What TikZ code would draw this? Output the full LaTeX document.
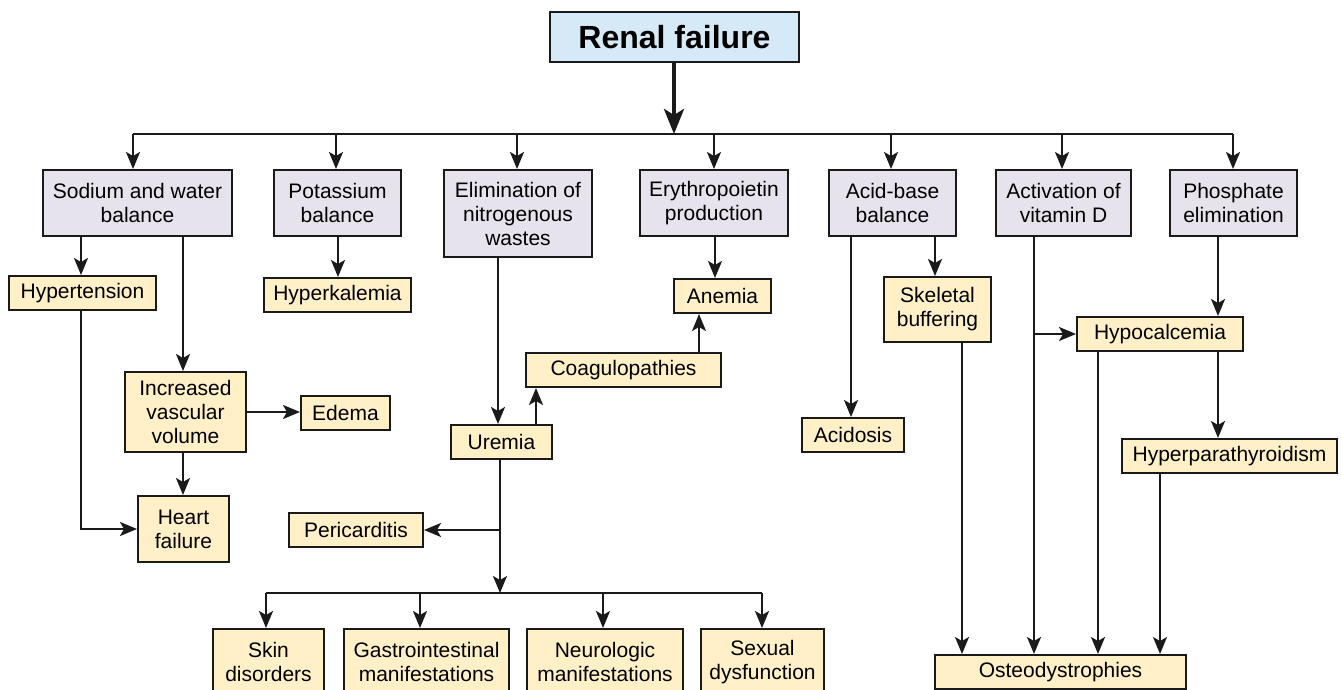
\documentclass[tikz,border=0pt]{standalone}
\usepackage{fontspec}
\setmainfont{Liberation Sans}
\usetikzlibrary{arrows.meta}
\definecolor{lavfill}{HTML}{E7E3EC}
\definecolor{yelfill}{HTML}{FFF0C8}
\definecolor{bluefill}{HTML}{D5E9F7}
\definecolor{ink}{HTML}{1A1A1A}
\tikzset{
  box/.style={draw=ink, line width=2pt, inner sep=0pt, align=center, font=\fontsize{21}{24}\selectfont},
  lvl/.style={box, fill=lavfill},
  res/.style={box, fill=yelfill},
  top/.style={box, fill=bluefill, font=\bfseries\fontsize{32}{36}\selectfont},
  con/.style={line width=2pt, draw=ink},
  arr/.style={con, -{Stealth[length=17pt,width=14pt,inset=4pt]}},
  bigarr/.style={draw=ink, line width=4pt, -{Stealth[length=25pt,width=20pt,inset=6pt]}},
}
\newcommand\bnode[7]{\node[#6, minimum width={#3pt-#2pt}, minimum height={#5pt-#4pt}] (#1) at ({(#2+#3)/2},{(#4+#5)/2}) {#7};}
\begin{document}
\begin{tikzpicture}[x=1pt,y=-1pt]
\clip (0,0) rectangle (1341,690);
% top
\bnode{rf}{550}{799}{12}{62}{top}{Renal failure}
% level 1
\bnode{sod}{43}{232}{170}{236}{lvl}{Sodium and water\\balance}
\bnode{pot}{274}{401}{170}{236}{lvl}{Potassium\\balance}
\bnode{eli}{444}{592}{170}{257}{lvl}{Elimination of\\nitrogenous\\wastes}
\bnode{ery}{640}{788}{170}{236}{lvl}{Erythropoietin\\production}
\bnode{acb}{829}{956}{170}{236}{lvl}{Acid-base\\balance}
\bnode{vit}{996}{1131}{170}{236}{lvl}{Activation of\\vitamin D}
\bnode{pho}{1170}{1297}{170}{236}{lvl}{Phosphate\\elimination}
% level 2
\bnode{hyp}{9}{156}{276}{310}{res}{Hypertension}
\bnode{hyk}{264}{411}{278}{312}{res}{Hyperkalemia}
\bnode{inc}{125}{246}{372}{452}{res}{Increased\\vascular\\volume}
\bnode{ede}{301}{390}{396}{430}{res}{Edema}
\bnode{hf}{138}{229}{496}{562}{res}{Heart\\failure}
\bnode{ure}{451}{552}{425}{459}{res}{Uremia}
\bnode{coa}{526}{721}{353}{387}{res}{Coagulopathies}
\bnode{ane}{674}{771}{279}{313}{res}{Anemia}
\bnode{per}{289}{423}{513}{547}{res}{Pericarditis}
\bnode{ski}{213}{324}{629}{695}{res}{Skin\\disorders}
\bnode{gas}{344}{509}{629}{695}{res}{Gastrointestinal\\manifestations}
\bnode{neu}{527}{683}{629}{695}{res}{Neurologic\\manifestations}
\bnode{sex}{701}{824}{629}{695}{res}{Sexual\\dysfunction}
\bnode{aci}{802}{904}{418}{452}{res}{Acidosis}
\bnode{ske}{884}{991}{277}{342}{res}{Skeletal\\buffering}
\bnode{hca}{1077}{1243}{317}{351}{res}{Hypocalcemia}
\bnode{hpt}{1122}{1337}{439}{473}{res}{Hyperparathyroidism}
\bnode{ost}{935}{1186}{655}{689}{res}{Osteodystrophies}
% main bus
\coordinate (bm) at (674,134);
\coordinate (b1) at (133,134);
\coordinate (b2) at (336,134);
\coordinate (b3) at (517,134);
\coordinate (b4) at (714,134);
\coordinate (b5) at (891,134);
\coordinate (b6) at (1062,134);
\coordinate (b7) at (1233,134);
\draw[con] (b1) -- (b7);
\draw[bigarr] (rf.south -| bm) -- (bm);
\draw[arr] (b1) -- (b1 |- sod.north);
\draw[arr] (b2) -- (b2 |- pot.north);
\draw[arr] (b3) -- (b3 |- eli.north);
\draw[arr] (b4) -- (b4 |- ery.north);
\draw[arr] (b5) -- (b5 |- acb.north);
\draw[arr] (b6) -- (b6 |- vit.north);
\draw[arr] (b7) -- (b7 |- pho.north);
% vertical line positions
\coordinate (xh) at (81,0);
\coordinate (xi) at (183,0);
\coordinate (xk) at (338,0);
\coordinate (xe) at (498,0);
\coordinate (xc) at (536,0);
\coordinate (xa) at (699,0);
\coordinate (xy) at (715,0);
\coordinate (xd) at (851,0);
\coordinate (xs) at (935,0);
\coordinate (xo) at (962,0);
\coordinate (xv) at (1034,0);
\coordinate (xp) at (1218,0);
\coordinate (xq) at (1098,0);
\coordinate (xr) at (1160,0);
% sodium branch
\draw[arr] (sod.south -| xh) -- (hyp.north -| xh);
\draw[arr] (sod.south -| xi) -- (inc.north -| xi);
\draw[arr] (inc.east) -- (ede.west |- inc.east);
\draw[arr] (inc.south -| xi) -- (hf.north -| xi);
\draw[arr] (hyp.south -| xh) |- (hf.west);
% potassium
\draw[arr] (pot.south -| xk) -- (hyk.north -| xk);
% nitrogenous wastes
\draw[arr] (eli.south -| xe) -- (ure.north -| xe);
\draw[arr] (ure.north -| xc) -- (coa.south -| xc);
\draw[arr] (coa.north -| xa) -- (ane.south -| xa);
\draw[arr] (ery.south -| xy) -- (ane.north -| xy);
\coordinate (ub) at (500,593);
\coordinate (u1) at (266,593);
\coordinate (u2) at (420,593);
\coordinate (u3) at (603,593);
\coordinate (u4) at (762,593);
\draw[arr] (ure.south -| ub) -- (ub);
\draw[arr] (per.east -| ub) -- (per.east);
\draw[con] (u1) -- (u4);
\draw[arr] (u1) -- (u1 |- ski.north);
\draw[arr] (u2) -- (u2 |- gas.north);
\draw[arr] (u3) -- (u3 |- neu.north);
\draw[arr] (u4) -- (u4 |- sex.north);
% acid-base
\draw[arr] (acb.south -| xd) -- (aci.north -| xd);
\draw[arr] (acb.south -| xs) -- (ske.north -| xs);
\draw[arr] (ske.south -| xo) -- (ost.north -| xo);
% vitamin D / phosphate
\draw[arr] (vit.south -| xv) -- (ost.north -| xv);
\draw[arr] (hca.west -| xv) -- (hca.west);
\draw[arr] (pho.south -| xp) -- (hca.north -| xp);
\draw[arr] (hca.south -| xq) -- (ost.north -| xq);
\draw[arr] (hca.south -| xp) -- (hpt.north -| xp);
\draw[arr] (hpt.south -| xr) -- (ost.north -| xr);
\end{tikzpicture}
\end{document}
